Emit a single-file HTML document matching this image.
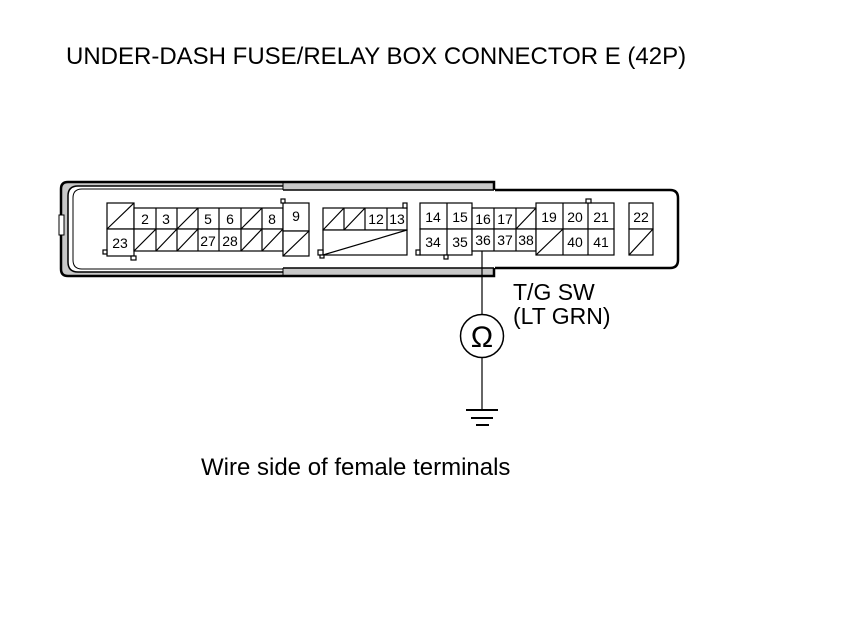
<!DOCTYPE html>
<html><head><meta charset="utf-8"><style>
html,body{margin:0;padding:0;background:#fff;}
svg{display:block;}
text{font-family:"Liberation Sans",Arial,sans-serif;fill:#000;}
</style></head><body>
<svg width="860" height="630" viewBox="0 0 860 630" xmlns="http://www.w3.org/2000/svg">
<text x="66" y="64" font-size="24">UNDER-DASH FUSE/RELAY BOX CONNECTOR E (42P)</text>
<!-- shell -->
<path d="M68,182 H494 V276 H68 Q61,276 61,269 V189 Q61,182 68,182 Z" fill="#c8c8c8" stroke="#000" stroke-width="2.5"/>
<rect x="494" y="190" width="180" height="78" fill="#fff"/>
<path d="M494,190 H670 Q678,190 678,198 V260 Q678,268 670,268 H494" fill="none" stroke="#000" stroke-width="2.5"/>
<rect x="283" y="190" width="212" height="78" fill="#fff"/>
<path d="M283,186 H78 Q68,186 68,196 V262 Q68,272 78,272 H283" fill="#fff" stroke="#000" stroke-width="1.5"/>
<path d="M283,189 H82 Q73,189 73,198 V260 Q73,269 82,269 H283" fill="none" stroke="#000" stroke-width="1"/>
<line x1="283" y1="182" x2="283" y2="190" stroke="#000"/>
<line x1="283" y1="268" x2="283" y2="276" stroke="#000"/>
<line x1="283" y1="190" x2="494" y2="190" stroke="#000" stroke-width="1.5"/>
<line x1="283" y1="268" x2="494" y2="268" stroke="#000" stroke-width="1.5"/>
<rect x="59" y="215" width="5" height="20" fill="#fff" stroke="#000"/>
<g fill="#fff" stroke="#000" stroke-width="1.2">
<rect x="107" y="203" width="27" height="26"/>
<rect x="107" y="229" width="27" height="27"/>
<rect x="134" y="208" width="149" height="21"/>
<rect x="134" y="229" width="149" height="22"/>
<rect x="283" y="203" width="26" height="28"/>
<rect x="283" y="231" width="26" height="25"/>
<rect x="323" y="208" width="84" height="22"/>
<rect x="323" y="230" width="84" height="25"/>
<rect x="420" y="203" width="52" height="26"/>
<rect x="420" y="229" width="52" height="26"/>
<rect x="472" y="208" width="64" height="21"/>
<rect x="472" y="229" width="64" height="22"/>
<rect x="536" y="203" width="78" height="26"/>
<rect x="536" y="229" width="78" height="26"/>
<rect x="629" y="203" width="24" height="26"/>
<rect x="629" y="229" width="24" height="26"/>
<rect x="103" y="250" width="4" height="4"/>
<rect x="131" y="256" width="5" height="4"/>
<rect x="281" y="199" width="4" height="4"/>
<rect x="318" y="250" width="5" height="5"/>
<rect x="320" y="255" width="4" height="3"/>
<rect x="403" y="203" width="4" height="5"/>
<rect x="416" y="250" width="4" height="5"/>
<rect x="444" y="255" width="4" height="4"/>
<rect x="586" y="199" width="5" height="4"/>
</g>
<g stroke="#000" stroke-width="1.2">
<line x1="156" y1="208" x2="156" y2="251"/><line x1="177" y1="208" x2="177" y2="251"/>
<line x1="198" y1="208" x2="198" y2="251"/><line x1="219" y1="208" x2="219" y2="251"/>
<line x1="241" y1="208" x2="241" y2="251"/><line x1="262" y1="208" x2="262" y2="251"/>
<line x1="344" y1="208" x2="344" y2="230"/><line x1="365" y1="208" x2="365" y2="230"/><line x1="387" y1="208" x2="387" y2="230"/>
<line x1="447" y1="203" x2="447" y2="255"/>
<line x1="494" y1="208" x2="494" y2="251"/><line x1="516" y1="208" x2="516" y2="251"/>
<line x1="563" y1="203" x2="563" y2="255"/><line x1="588" y1="203" x2="588" y2="255"/>
<line x1="107" y1="229" x2="134" y2="203"/>
<line x1="134" y1="251" x2="156" y2="229"/><line x1="156" y1="251" x2="177" y2="229"/>
<line x1="177" y1="251" x2="198" y2="229"/><line x1="177" y1="229" x2="198" y2="208"/>
<line x1="241" y1="229" x2="262" y2="208"/>
<line x1="241" y1="251" x2="262" y2="229"/><line x1="262" y1="251" x2="283" y2="229"/>
<line x1="283" y1="256" x2="309" y2="231"/>
<line x1="323" y1="230" x2="344" y2="208"/><line x1="344" y1="230" x2="365" y2="208"/>
<line x1="323" y1="255" x2="407" y2="230"/>
<line x1="516" y1="229" x2="536" y2="208"/>
<line x1="536" y1="255" x2="563" y2="229"/>
<line x1="629" y1="255" x2="653" y2="229"/>
<line x1="482" y1="251" x2="482" y2="314"/>
<circle cx="482" cy="336" r="21.5" fill="none" stroke-width="1.5"/>
<line x1="482" y1="358" x2="482" y2="410"/>
<line x1="466" y1="410" x2="498" y2="410" stroke-width="2"/>
<line x1="471" y1="418" x2="493" y2="418" stroke-width="2"/>
<line x1="476" y1="425" x2="489" y2="425" stroke-width="2"/>
</g>
<text x="482" y="347" font-size="30" text-anchor="middle">Ω</text>
<g font-size="14" text-anchor="middle">
<text x="145" y="224">2</text><text x="166" y="224">3</text><text x="208" y="224">5</text><text x="230" y="224">6</text><text x="272" y="224">8</text>
<text x="296" y="221">9</text>
<text x="120" y="248">23</text><text x="208" y="246">27</text><text x="230" y="246">28</text>
<text x="376" y="224">12</text><text x="397" y="224">13</text>
<text x="433" y="222">14</text><text x="460" y="222">15</text><text x="483" y="224">16</text><text x="505" y="224">17</text>
<text x="549" y="222">19</text><text x="575" y="222">20</text><text x="601" y="222">21</text><text x="641" y="222">22</text>
<text x="433" y="247">34</text><text x="460" y="247">35</text><text x="483" y="245">36</text><text x="505" y="245">37</text><text x="526" y="245">38</text>
<text x="575" y="247">40</text><text x="601" y="247">41</text>
</g>
<text x="513" y="300" font-size="23">T/G SW</text>
<text x="513" y="324" font-size="23">(LT GRN)</text>
<text x="201" y="475" font-size="24">Wire side of female terminals</text>
</svg>
</body></html>
